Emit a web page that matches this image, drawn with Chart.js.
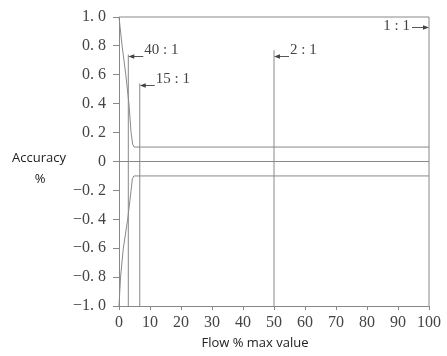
<!DOCTYPE html>
<html>
<head>
<meta charset="utf-8">
<script src="https://cdn.jsdelivr.net/npm/chart.js@4/dist/chart.umd.min.js"></script>
<style>
html,body{margin:0;padding:0;background:#fff;}
#wrap{width:447px;height:356px;position:relative;}
</style>
</head>
<body>
<div id="wrap"><canvas id="c" width="447" height="356"></canvas></div>
<script>
// Accuracy envelope (upper and lower limits)
const upperX = [0, 1.0, 2.2, 3.2, 3.9, 4.4, 4.9, 100];
const upperY = [1.0, 0.8, 0.6, 0.4, 0.2, 0.12, 0.1, 0.1];
const lowerX = [0, 0.5, 1.4, 2.8, 3.9, 4.3, 4.8, 100];
const lowerY = [-1.0, -0.8, -0.6, -0.4, -0.2, -0.12, -0.1, -0.1];
// Turndown ratio markers
const ratioLabels = ['40 : 1', '15 : 1', '2 : 1', '1 : 1'];
const ratioX = [3, 6.7, 50, 100];
const ratioTop = [0.74, 0.54, 0.77, 1.0];
const ratioArrowY = [0.73, 0.53, 0.73, 0.93];
// Axes
const xTicks = [0, 10, 20, 30, 40, 50, 60, 70, 80, 90, 100];
const yTicks = [-1.0, -0.8, -0.6, -0.4, -0.2, 0, 0.2, 0.4, 0.6, 0.8, 1.0];
const xTitle = 'Flow % max value';
const yTitle = ['Accuracy', '%'];

const LINE = '#888888';
const TXT = '#444444';
const SERIF = '"Liberation Serif", "DejaVu Serif", serif';

function pts(xs, ys) { return xs.map((v, i) => ({x: v, y: ys[i]})); }
function lineDs(data) {
  return {data, borderColor: LINE, borderWidth: 1, pointRadius: 0, showLine: true, fill: false, tension: 0, clip: false};
}

const datasets = [
  lineDs(pts(upperX, upperY)),
  lineDs(pts(lowerX, lowerY)),
  lineDs([{x: xTicks[0], y: 0}, {x: xTicks[xTicks.length - 1], y: 0}]),
  lineDs([{x: xTicks[0], y: yTicks[yTicks.length - 1]}, {x: xTicks[xTicks.length - 1], y: yTicks[yTicks.length - 1]}])
];
ratioX.forEach((rx, i) => {
  datasets.push(lineDs([{x: rx, y: yTicks[0]}, {x: rx, y: ratioTop[i]}]));
});

function fmtY(v) {
  if (Math.abs(v) < 1e-9) return '0';
  const s = Math.abs(v).toFixed(1).replace('.', '. ');
  return (v < 0 ? '\u2212' : '') + s;
}

const annot = {
  id: 'annot',
  afterDatasetsDraw(chart) {
    const {ctx, scales: {x, y}} = chart;
    ctx.save();
    ctx.font = '15px ' + SERIF;
    ctx.fillStyle = TXT;
    ctx.strokeStyle = '#555';
    ctx.lineWidth = 1;
    ratioLabels.forEach((lab, i) => {
      const px = x.getPixelForValue(ratioX[i]);
      const py = Math.round(y.getPixelForValue(ratioArrowY[i])) + 0.5;
      const right = ratioX[i] >= x.max;
      ctx.beginPath();
      if (right) {
        ctx.moveTo(px - 17, py); ctx.lineTo(px - 4, py); ctx.stroke();
        ctx.beginPath(); ctx.moveTo(px, py); ctx.lineTo(px - 6, py - 2.2); ctx.lineTo(px - 6, py + 2.2); ctx.closePath(); ctx.fill();
        ctx.textAlign = 'right'; ctx.textBaseline = 'middle';
        ctx.fillText(lab, px - 19, py - 1);
      } else {
        ctx.moveTo(px + 4, py); ctx.lineTo(px + 15, py); ctx.stroke();
        ctx.beginPath(); ctx.moveTo(px, py); ctx.lineTo(px + 6, py - 2.2); ctx.lineTo(px + 6, py + 2.2); ctx.closePath(); ctx.fill();
        ctx.textAlign = 'left'; ctx.textBaseline = 'alphabetic';
        ctx.fillText(lab, px + 16, py - 3);
      }
    });
    // axis titles
    ctx.font = '13px "Open Sans", sans-serif';
    ctx.fillStyle = '#222';
    ctx.textAlign = 'center'; ctx.textBaseline = 'middle';
    ctx.fillText(xTitle, 255, 343);
    ctx.fillText(yTitle[0], 39, 158);
    ctx.fillText(yTitle[1], 40, 179);
    ctx.restore();
  }
};

new Chart(document.getElementById('c'), {
  type: 'scatter',
  data: {datasets},
  plugins: [annot],
  options: {
    responsive: false,
    animation: false,
    devicePixelRatio: 1,
    layout: {padding: {top: 17, right: 18, left: 0, bottom: 0}},
    plugins: {legend: {display: false}, tooltip: {enabled: false}},
    scales: {
      x: {
        type: 'linear', min: 0, max: 100,
        afterFit: s => { s.height = 50; },
        afterBuildTicks: s => { s.ticks = xTicks.map(v => ({value: v})); },
        border: {display: true, color: LINE, width: 1},
        grid: {drawOnChartArea: false, drawTicks: true, tickLength: 4, color: LINE},
        ticks: {padding: 3, color: TXT, font: {family: SERIF, size: 16}, maxRotation: 0}
      },
      y: {
        type: 'linear', min: -1, max: 1,
        afterFit: s => { s.width = 119; },
        afterBuildTicks: s => { s.ticks = yTicks.map(v => ({value: v})); },
        border: {display: true, color: LINE, width: 1},
        grid: {drawOnChartArea: false, drawTicks: true, tickLength: 6, color: LINE},
        ticks: {padding: 7, color: TXT, font: {family: SERIF, size: 16}, callback: v => fmtY(v)}
      }
    }
  }
});
</script>
</body>
</html>
